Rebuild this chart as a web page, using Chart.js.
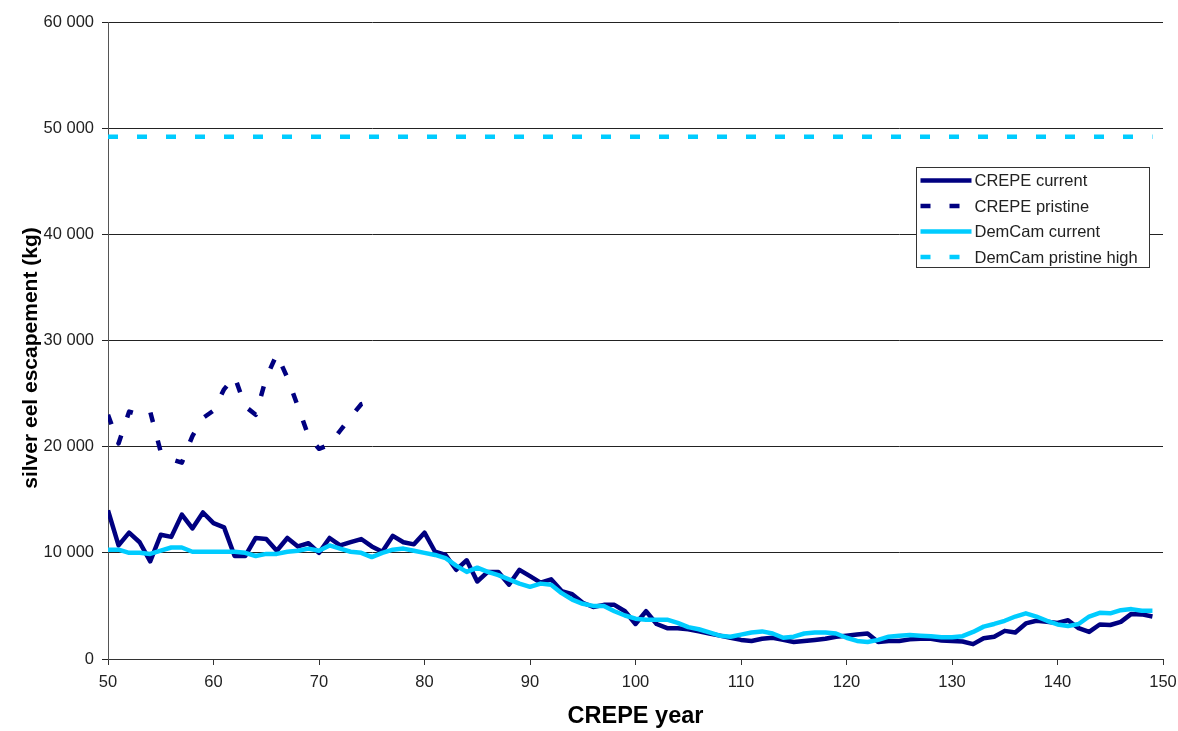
<!DOCTYPE html>
<html>
<head>
<meta charset="utf-8">
<script src="https://cdn.jsdelivr.net/npm/chart.js@4.4.1/dist/chart.umd.min.js"></script>
<style>
  html, body { margin: 0; padding: 0; background: #fff; }
  canvas { display: block; }
</style>
</head>
<body>
<canvas id="eelChart" width="1178" height="731"></canvas>
<script>
// years 50..149 on the x axis
const years = Array.from({ length: 100 }, (_, i) => 50 + i);
const pristineYears = years.slice(0, 26); // 50..75

const crepeCurrent = [
  14000, 10700, 11900, 11000, 9200, 11700, 11500, 13600, 12300, 13800,
  12800, 12400, 9700, 9700, 11400, 11300, 10200, 11400, 10600, 10900,
  10000, 11400, 10700, 11000, 11300, 10600, 10100, 11600, 11000, 10800,
  11900, 10100, 9800, 8400, 9300, 7300, 8200, 8200, 7000, 8400,
  7800, 7200, 7500, 6400, 6100, 5300, 4900, 5100, 5100, 4500,
  3300, 4500, 3300, 2900, 2900, 2800, 2600, 2400, 2200, 2000,
  1800, 1700, 1900, 2000, 1800, 1600, 1700, 1800, 1900, 2100,
  2200, 2300, 2400, 1600, 1700, 1700, 1850, 1900, 1900, 1750,
  1700, 1650, 1400, 1950, 2100, 2650, 2500, 3350, 3600, 3500,
  3400, 3650, 2900, 2550, 3250, 3200, 3500, 4250, 4200, 4000
];

const crepePristine = [
  23000, 20300, 23300, 23000, 23300, 19500, 18800, 18500, 21000, 22700,
  23400, 25400, 26600, 23800, 23000, 26500, 28700, 26500, 23800, 21000,
  19800, 20200, 21500, 22800, 24000, 24300
];

const demcamCurrent = [
  10300, 10300, 10000, 10000, 9900, 10200, 10500, 10500, 10100, 10100,
  10100, 10100, 10100, 10000, 9700, 9900, 9900, 10100, 10200, 10400,
  10200, 10700, 10400, 10100, 10000, 9600, 10000, 10300, 10400, 10200,
  10000, 9800, 9500, 8800, 8200, 8600, 8200, 7900, 7500, 7100,
  6800, 7100, 7000, 6200, 5600, 5200, 5000, 5000, 4500, 4100,
  3800, 3700, 3700, 3700, 3400, 3000, 2800, 2500, 2200, 2100,
  2300, 2500, 2600, 2400, 2000, 2100, 2400, 2500, 2500, 2400,
  2000, 1700, 1600, 1800, 2100, 2200, 2250, 2200, 2150, 2050,
  2050, 2150, 2550, 3050, 3300, 3600, 4000, 4300, 4000, 3600,
  3250, 3100, 3300, 4000, 4350, 4300, 4600, 4700, 4550, 4550
];

const demcamPristineHigh = 49200;

const seriesNames = ['CREPE current', 'CREPE pristine', 'DemCam current', 'DemCam pristine high'];

const NAVY = '#000080';
const CYAN = '#00CCFF';
const FONT = "Arial, 'Liberation Sans', sans-serif";

const toPoints = (xs, ys) => xs.map((x, i) => ({ x: x, y: ys[i] }));

const fmt = v => String(v).replace(/\B(?=(\d{3})+(?!\d))/g, ' ');

// boxed legend drawn inside the plot, top right
const boxLegend = {
  id: 'boxLegend',
  afterDraw(chart) {
    const ctx = chart.ctx;
    const x0 = 916.5, y0 = 167.5, w = 233, h = 100, rowH = 25.5;
    ctx.save();
    ctx.fillStyle = '#fff';
    ctx.fillRect(x0, y0, w, h);
    ctx.strokeStyle = '#333';
    ctx.lineWidth = 1;
    ctx.strokeRect(x0, y0, w, h);
    ctx.font = '16.5px ' + FONT;
    ctx.textBaseline = 'middle';
    chart.data.datasets.forEach((ds, i) => {
      const y = y0 + 13 + i * rowH;
      ctx.beginPath();
      ctx.strokeStyle = ds.borderColor;
      ctx.lineWidth = ds.borderWidth;
      ctx.lineCap = 'butt';
      ctx.setLineDash(ds.borderDash || []);
      ctx.moveTo(x0 + 4, y);
      ctx.lineTo(x0 + 55, y);
      ctx.stroke();
      ctx.setLineDash([]);
      ctx.fillStyle = '#222';
      ctx.fillText(ds.label, x0 + 58, y + 1);
    });
    ctx.restore();
  }
};

new Chart(document.getElementById('eelChart'), {
  type: 'line',
  data: {
    datasets: [
      {
        label: seriesNames[0],
        data: toPoints(years, crepeCurrent),
        borderColor: NAVY,
        borderWidth: 4.5,
        order: 2
      },
      {
        label: seriesNames[1],
        data: toPoints(pristineYears, crepePristine),
        borderColor: NAVY,
        borderWidth: 4.5,
        borderDash: [10, 19],
        order: 3
      },
      {
        label: seriesNames[2],
        data: toPoints(years, demcamCurrent),
        borderColor: CYAN,
        borderWidth: 4.5,
        order: 1
      },
      {
        label: seriesNames[3],
        data: [
          { x: years[0], y: demcamPristineHigh },
          { x: years[years.length - 1], y: demcamPristineHigh }
        ],
        borderColor: CYAN,
        borderWidth: 4.5,
        borderDash: [10, 19],
        order: 4
      }
    ]
  },
  options: {
    responsive: false,
    devicePixelRatio: 1,
    animation: false,
    layout: { padding: { top: 22, right: 15, left: 0, bottom: 0 } },
    elements: {
      point: { radius: 0, hoverRadius: 0 },
      line: { tension: 0, fill: false, borderCapStyle: 'butt', borderJoinStyle: 'round' }
    },
    plugins: {
      legend: { display: false },
      tooltip: { enabled: false }
    },
    scales: {
      x: {
        type: 'linear',
        min: 50,
        max: 150,
        afterFit: s => { s.height = 72; s.paddingLeft = 0; s.paddingRight = 0; },
        ticks: {
          stepSize: 10,
          color: '#222',
          padding: 8,
          maxRotation: 0,
          font: { family: FONT, size: 16.5 }
        },
        grid: { drawOnChartArea: false, drawTicks: true, tickLength: 6, color: '#333' },
        border: { display: true, color: '#333', width: 1 },
        title: {
          display: true,
          text: 'CREPE year',
          color: '#000',
          font: { family: FONT, size: 23.5, weight: 'bold' },
          padding: { top: 0, bottom: 0 }
        }
      },
      y: {
        min: 0,
        max: 60000,
        afterFit: s => { s.width = 108; s.paddingTop = 0; s.paddingBottom = 0; },
        ticks: {
          stepSize: 10000,
          color: '#222',
          padding: 8,
          font: { family: FONT, size: 16.5 },
          callback: v => fmt(v)
        },
        grid: { color: '#222', lineWidth: 1, drawTicks: true, tickLength: 6 },
        border: { display: true, color: '#555', width: 1 },
        title: {
          display: true,
          // trailing spaces nudge the rotated title down like the original
          text: 'silver eel escapement (kg)      ',
          color: '#000',
          font: { family: FONT, size: 21, weight: 'bold' },
          padding: { top: 19, bottom: 0 }
        }
      }
    }
  },
  plugins: [boxLegend]
});
</script>
</body>
</html>
